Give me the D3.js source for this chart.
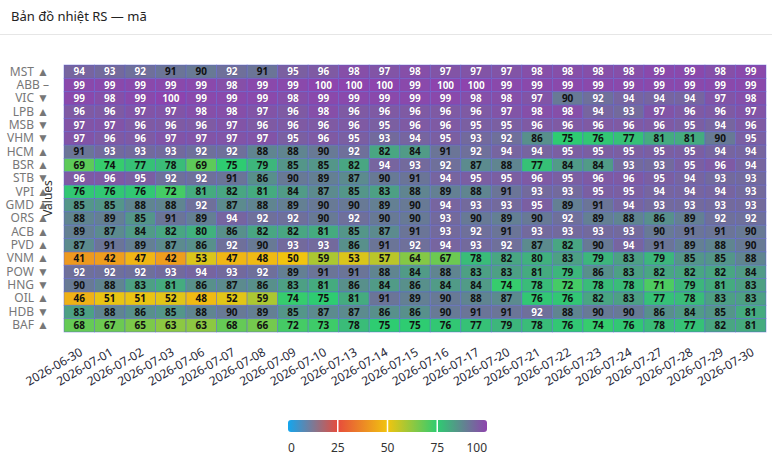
<!DOCTYPE html>
<html><head><meta charset="utf-8">
<script src="https://cdn.jsdelivr.net/npm/d3@7/dist/d3.min.js"></script>
<style>
html,body{margin:0;padding:0;background:#fff;}
svg{display:block;font-family:"Segoe UI","Noto Sans","Open Sans",sans-serif;}
</style></head>
<body><svg id="c" width="772" height="472"></svg>
<script>
const title = "Bản đồ nhiệt RS — mã";
const dates = ["2026-06-30","2026-07-01","2026-07-02","2026-07-03","2026-07-06","2026-07-07","2026-07-08","2026-07-09","2026-07-10","2026-07-13","2026-07-14","2026-07-15","2026-07-16","2026-07-17","2026-07-20","2026-07-21","2026-07-22","2026-07-23","2026-07-24","2026-07-27","2026-07-28","2026-07-29","2026-07-30"];
const tickers = ["MST","ABB","VIC","LPB","MSB","VHM","HCM","BSR","STB","VPI","GMD","ORS","ACB","PVD","VNM","POW","HNG","OIL","HDB","BAF"];
const trends = ["▲","–","▼","▲","▼","▼","▲","▲","▼","▲","▲","▲","▲","▲","▲","▼","▼","▲","▼","▲"];
const rsMST = [94,93,92,91,90,92,91,95,96,98,97,98,97,97,97,98,98,98,98,99,99,98,99];
const rsABB = [99,99,99,99,99,98,99,99,100,100,100,99,100,100,99,99,99,99,99,99,99,99,99];
const rsVIC = [99,98,99,100,99,99,99,98,99,99,99,99,99,98,98,97,90,92,94,94,94,97,98];
const rsLPB = [96,96,97,97,98,98,97,96,98,96,96,96,96,96,97,98,98,94,93,97,96,96,97];
const rsMSB = [97,97,96,96,96,97,96,96,96,96,95,96,96,95,95,96,96,96,96,96,95,94,96];
const rsVHM = [97,96,96,97,97,97,97,95,96,95,93,94,95,93,92,86,75,76,77,81,81,90,95];
const rsHCM = [91,93,93,93,92,92,88,88,90,92,82,84,91,92,94,94,95,95,95,95,95,94,94];
const rsBSR = [69,74,77,78,69,75,79,85,85,82,94,93,92,87,88,77,84,84,93,93,95,96,94];
const rsSTB = [96,96,95,92,92,91,86,90,89,87,90,91,94,95,95,96,95,96,96,95,94,93,93];
const rsVPI = [76,76,76,72,81,82,81,84,87,85,83,88,89,88,91,93,93,95,95,94,94,94,93];
const rsGMD = [85,85,88,88,92,87,88,89,90,90,89,90,94,93,93,95,89,91,94,93,93,93,93];
const rsORS = [88,89,85,91,89,94,92,92,90,92,90,90,93,90,89,90,92,89,88,86,89,92,92];
const rsACB = [89,87,84,82,80,86,82,82,81,85,87,91,93,92,91,93,93,93,93,90,91,91,90];
const rsPVD = [87,91,89,87,86,92,90,93,93,86,91,92,94,93,92,87,82,90,94,91,89,88,90];
const rsVNM = [41,42,47,42,53,47,48,50,59,53,57,64,67,78,82,80,83,79,83,79,85,85,88];
const rsPOW = [92,92,92,93,94,93,92,89,91,91,88,84,88,83,83,81,79,86,83,82,82,82,84];
const rsHNG = [90,88,83,81,86,87,86,83,81,86,84,86,84,84,74,78,72,78,78,71,79,81,83];
const rsOIL = [46,51,51,52,48,52,59,74,75,81,91,89,90,88,87,76,76,82,83,77,78,83,83];
const rsHDB = [83,88,86,85,88,90,89,85,87,87,86,86,90,91,91,92,88,90,90,86,84,85,81];
const rsBAF = [68,67,65,63,63,68,66,72,73,78,75,75,76,77,79,78,76,74,76,78,77,82,81];
const legendTicks = [0,25,50,75,100];

const series = [rsMST,rsABB,rsVIC,rsLPB,rsMSB,rsVHM,rsHCM,rsBSR,rsSTB,rsVPI,rsGMD,rsORS,rsACB,rsPVD,rsVNM,rsPOW,rsHNG,rsOIL,rsHDB,rsBAF];
const cells = [];
tickers.forEach((t,i)=>dates.forEach((d,j)=>cells.push({t, d, v: series[i][j]})));

const svg = d3.select("#c");
const W = 772, H = 472;
const m = {l:64, r:6, t:65, b:140};

svg.append("text").attr("x",11).attr("y",21).attr("font-size",13).attr("fill","#222").text(title);
svg.append("line").attr("x1",0).attr("x2",W).attr("y1",34.5).attr("y2",34.5).attr("stroke","#e6e6e6");

const x = d3.scaleBand().domain(dates).range([m.l, W-m.r]).padding(0);
const y = d3.scaleBand().domain(tickers).range([m.t, H-m.b]).padding(0);

const stops = ["#13a6ee","#e74c3c","#f1c40f","#2ecc71","#8e44ad"];
const color = d3.scaleLinear().domain(legendTicks).range(stops).interpolate(d3.interpolateRgb).clamp(true);

const g = svg.append("g");
g.selectAll("rect.cell").data(cells).join("rect").attr("class","cell")
  .attr("x",d=>x(d.d)).attr("y",d=>y(d.t))
  .attr("width",x.bandwidth()).attr("height",y.bandwidth())
  .attr("fill",d=>color(d.v))
  .attr("stroke","#5a5fd6").attr("stroke-opacity",0.55).attr("stroke-width",0.8);

g.selectAll("text.val").data(cells).join("text").attr("class","val")
  .attr("x",d=>x(d.d)+x.bandwidth()/2).attr("y",d=>y(d.t)+y.bandwidth()/2)
  .attr("dy","0.36em").attr("text-anchor","middle")
  .attr("font-size",10).attr("font-weight","bold")
  .attr("fill",d=>d.v>=92?"#fff":"#111")
  .attr("stroke",d=>d.v>=92?"rgba(60,30,90,0.5)":"none").attr("stroke-width",0.6).attr("paint-order","stroke")
  .text(d=>d.v);

// y labels
const yAxis = d3.axisLeft(y).tickSize(0).tickPadding(15).tickFormat((t,i)=>t+" "+trends[i]);
const ya = svg.append("g").attr("transform",`translate(${m.l},0)`).call(yAxis);
ya.select(".domain").remove();
ya.selectAll("text").attr("font-size",12).attr("fill","#777").attr("font-family",'"Segoe UI","Noto Sans",sans-serif');

svg.append("text").attr("transform",`translate(52,${(m.t+H-m.b)/2}) rotate(-90)`)
  .attr("text-anchor","middle").attr("font-size",12).attr("fill","#333").text("Values");

// x labels
const xAxis = d3.axisBottom(x).tickSize(0).tickPadding(0);
const xa = svg.append("g").attr("transform",`translate(0,${H-m.b})`).call(xAxis);
xa.select(".domain").remove();
xa.selectAll("text").attr("font-size",12).attr("fill","#2a2a3a")
  .attr("font-family",'"Segoe UI","Noto Sans",sans-serif')
  .attr("text-anchor","end").attr("transform","translate(2,19) rotate(-30)").attr("dy","0.35em");

// legend
const lx = d3.scaleLinear().domain([0,100]).range([288,487]);
const defs = svg.append("defs");
const grad = defs.append("linearGradient").attr("id","lg").attr("x1","0%").attr("x2","100%");
legendTicks.forEach((t,i)=>grad.append("stop").attr("offset",t+"%").attr("stop-color",stops[i]));
svg.append("rect").attr("x",lx(0)).attr("y",420).attr("width",lx(100)-lx(0)).attr("height",12).attr("rx",3).attr("fill","url(#lg)");
svg.selectAll("line.sep").data(legendTicks.slice(1,-1)).join("line").attr("class","sep")
  .attr("x1",d=>lx(d)).attr("x2",d=>lx(d)).attr("y1",420).attr("y2",432).attr("stroke","#fff").attr("stroke-width",1.5);
svg.selectAll("text.lt").data(legendTicks).join("text").attr("class","lt")
  .attr("x",d=>lx(d)).attr("y",452)
  .attr("text-anchor",(d,i)=>i===0?"start":(i===legendTicks.length-1?"end":"middle"))
  .attr("font-size",12).attr("fill","#333").text(d=>d);
</script></body></html>
